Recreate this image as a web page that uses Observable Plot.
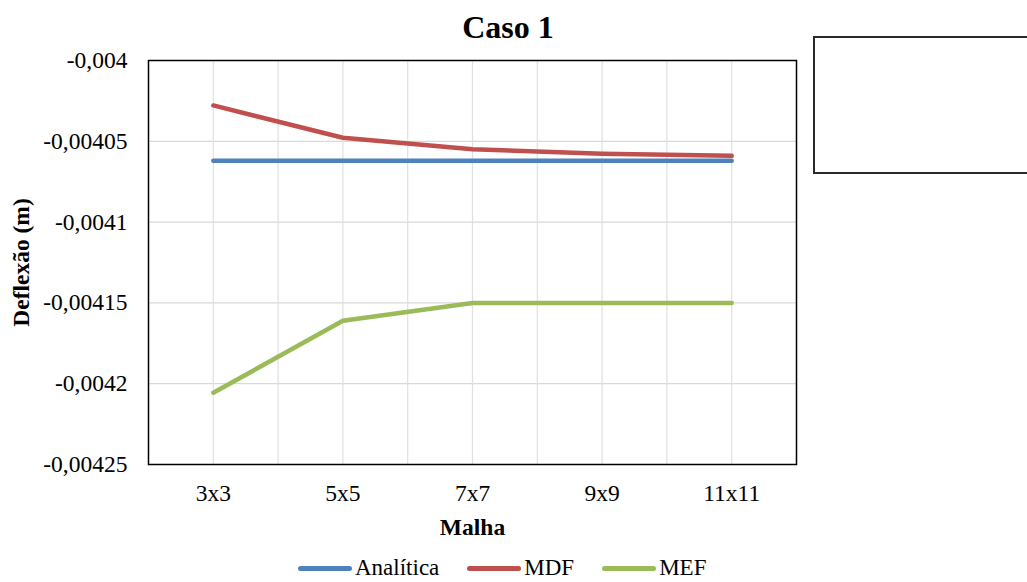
<!DOCTYPE html>
<html>
<head>
<meta charset="utf-8">
<script src="https://cdn.jsdelivr.net/npm/d3@7"></script>
<script src="https://cdn.jsdelivr.net/npm/@observablehq/plot@0.6"></script>
<style>
  html, body { margin: 0; padding: 0; background: #fff; }
  #wrap { position: relative; width: 1027px; height: 582px; overflow: hidden; font-family: "Liberation Serif", "Times New Roman", serif; }
  #chart { position: absolute; left: 0; top: 0; }
  #chart svg text { font-family: "Liberation Serif", "Times New Roman", serif !important; font-size: 23.5px !important; fill: #000; }
  #chart svg g[aria-label="y-axis label"] text, #chart svg g[aria-label="x-axis label"] text { font-weight: bold; }
  #title { position: absolute; left: 0; width: 1016px; top: 8px; text-align: center; font-weight: bold; font-size: 32px; line-height: 38px; color: #000; }
  #box { position: absolute; left: 813px; top: 36px; width: 260px; height: 134px; border: 2px solid #2a2a2a; }
  #legend { position: absolute; top: 558px; left: 298px; display: flex; align-items: center; font-size: 23px; line-height: 20px; height: 20px; color: #000; }
  .item { display: flex; align-items: center; margin-right: 28px; }
  .sw { width: 54px; height: 5px; border-radius: 3px; margin-right: 3px; }
</style>
</head>
<body>
<div id="wrap">
  <div id="chart"></div>
  <div id="title">Caso 1</div>
  <div id="box"></div>
  <div id="legend"></div>
</div>
<script>
const categories = ["3x3", "5x5", "7x7", "9x9", "11x11"];
const analitica = [-0.004062, -0.004062, -0.004062, -0.004062, -0.004062];
const mdf = [-0.0040278, -0.0040478, -0.0040549, -0.0040577, -0.004059];
const mef = [-0.0042056, -0.0041611, -0.00415, -0.00415, -0.00415];
const seriesNames = ["Analítica", "MDF", "MEF"];
const seriesColors = ["#4f81bd", "#c0504d", "#9bbb59"];
const yTicks = [-0.004, -0.00405, -0.0041, -0.00415, -0.0042, -0.00425];
const yTickLabels = ["-0,004", "-0,00405", "-0,0041", "-0,00415", "-0,0042", "-0,00425"];

const seriesValues = [analitica, mdf, mef];
const rows = [];
seriesNames.forEach((s, si) => {
  seriesValues[si].forEach((v, i) => rows.push({serie: s, idx: i, value: v}));
});
const xGrid = d3.range(0, categories.length - 0.5 + 0.001, 0.5);

const chart = Plot.plot({
  width: 1027,
  height: 545,
  marginLeft: 148,
  marginRight: 231,
  marginTop: 60,
  marginBottom: 81,
  style: {fontFamily: "'Liberation Serif', 'Times New Roman', serif", fontSize: "23.5px", color: "#000", background: "transparent"},
  x: {domain: [-0.5, categories.length - 0.5]},
  y: {domain: [yTicks[yTicks.length - 1], yTicks[0]]},
  color: {domain: seriesNames, range: seriesColors},
  marks: [
    Plot.gridY(yTicks, {stroke: "#d9d9d9", strokeOpacity: 1, strokeWidth: 1.2}),
    Plot.gridX(xGrid, {stroke: "#e0e0e0", strokeOpacity: 1, strokeWidth: 1.2}),
    Plot.axisY({ticks: yTicks, tickFormat: d => yTickLabels[yTicks.indexOf(d)], tickSize: 0, tickPadding: 21,
      label: "Deflexão (m)", labelAnchor: "center", labelArrow: "none", labelOffset: 136}),
    Plot.axisX({ticks: d3.range(categories.length), tickFormat: i => categories[i], tickSize: 0, tickPadding: 20,
      label: "Malha", labelAnchor: "center", labelArrow: "none", labelOffset: 70}),
    Plot.line(rows, {x: "idx", y: "value", z: "serie", stroke: "serie", strokeWidth: 4.5, strokeLinecap: "round", strokeLinejoin: "round"}),
    Plot.frame({stroke: "#000", strokeWidth: 1.5})
  ]
});
document.getElementById("chart").appendChild(chart);

const legend = document.getElementById("legend");
seriesNames.forEach((s, i) => {
  const it = document.createElement("div");
  it.className = "item";
  const sw = document.createElement("div");
  sw.className = "sw";
  sw.style.background = seriesColors[i];
  const t = document.createElement("span");
  t.textContent = s;
  it.appendChild(sw); it.appendChild(t);
  legend.appendChild(it);
});
</script>
</body>
</html>
